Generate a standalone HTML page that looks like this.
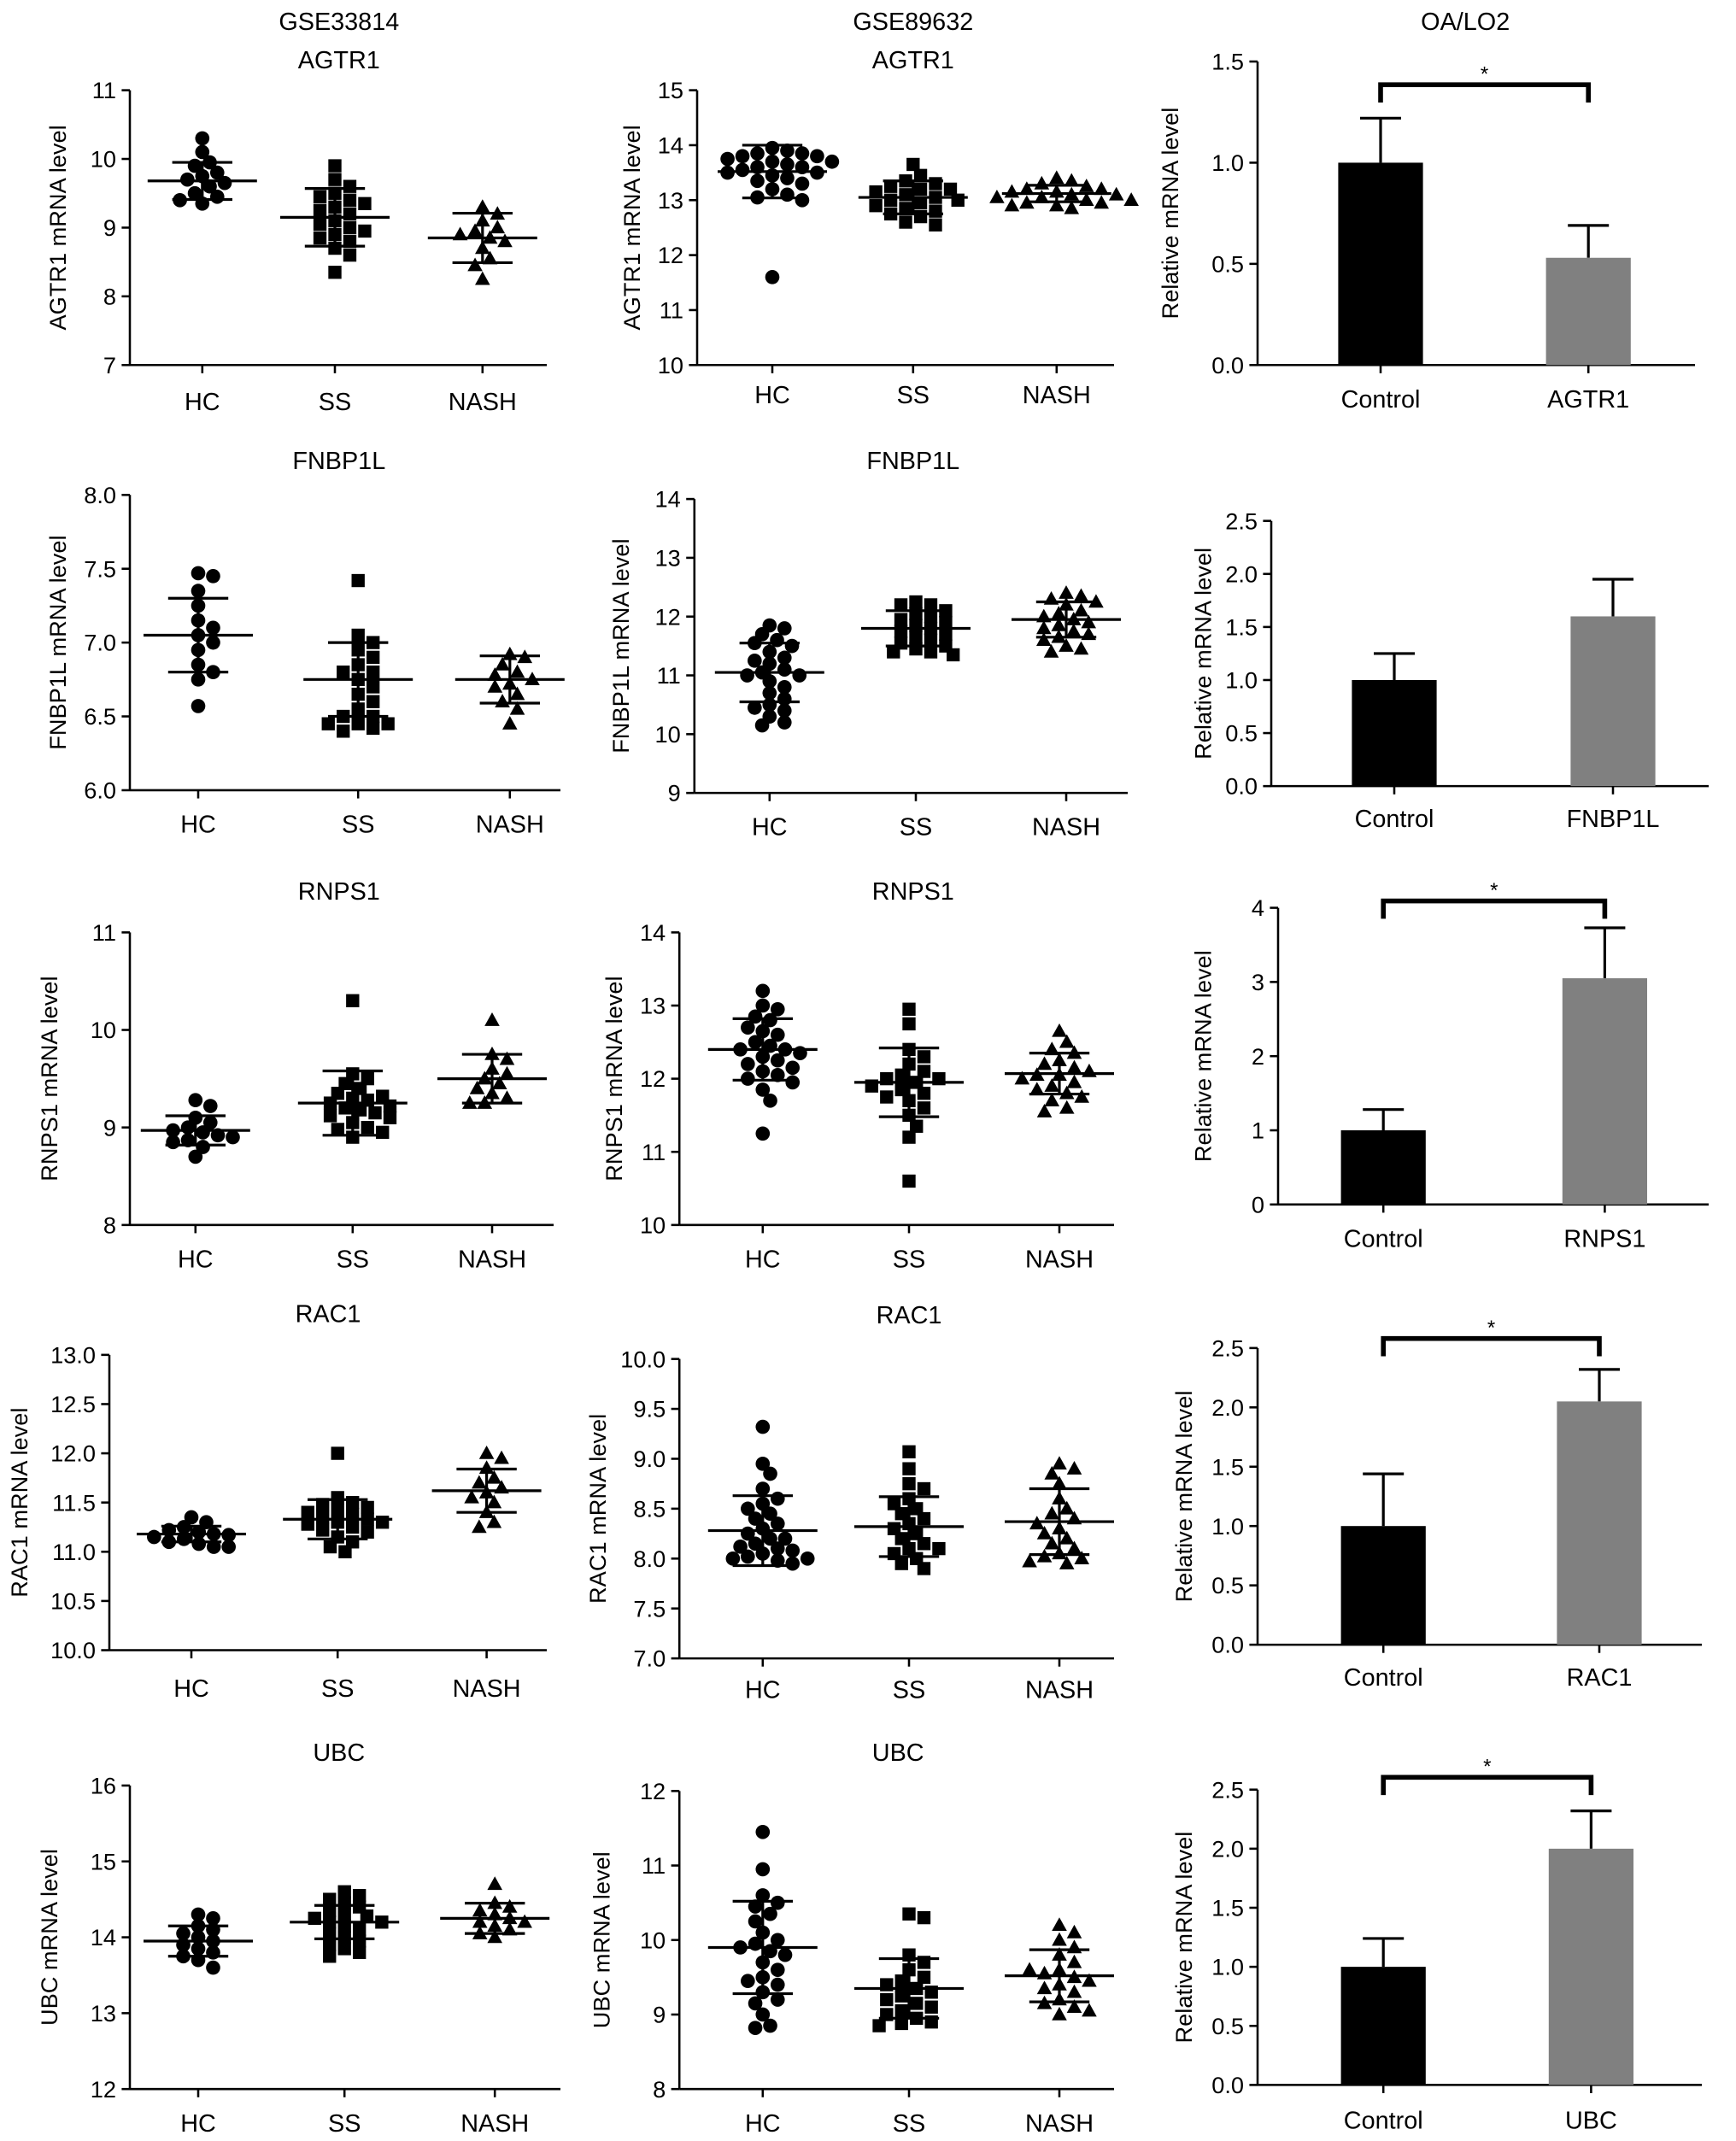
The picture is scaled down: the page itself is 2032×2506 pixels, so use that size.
<!DOCTYPE html>
<html><head><meta charset="utf-8"><style>
html,body{margin:0;padding:0;background:#fff;}
svg{display:block;font-family:"Liberation Sans",Arial,sans-serif;}
</style></head><body>
<svg id="fig" width="2032" height="2506" viewBox="0 0 1270 1566" preserveAspectRatio="none" xmlns="http://www.w3.org/2000/svg"></svg>
<script>
// ---- data ----
const groups = ["HC","SS","NASH"];
const p1HC=[10.3,10.1,9.95,9.9,9.8,9.75,9.7,9.65,9.6,9.5,9.45,9.4,9.35];
const p1SS=[9.9,9.7,9.6,9.5,9.45,9.4,9.35,9.3,9.25,9.2,9.1,9.05,9.0,8.95,8.9,8.85,8.8,8.7,8.6,8.35];
const p1NASH=[9.3,9.2,9.1,9.0,8.95,8.9,8.85,8.8,8.7,8.55,8.45,8.25];
const p1Mean=[9.68,9.15,8.85], p1SD=[0.27,0.42,0.36];
const p2HC=[13.95,13.9,13.85,13.85,13.8,13.8,13.75,13.7,13.7,13.65,13.6,13.6,13.55,13.5,13.5,13.45,13.4,13.35,13.3,13.2,13.1,13.05,13.0,11.6];
const p2SS=[13.65,13.45,13.35,13.3,13.25,13.2,13.2,13.15,13.1,13.05,13.0,13.0,12.95,12.9,12.85,12.8,12.75,12.7,12.6,12.55];
const p2NASH=[13.4,13.35,13.3,13.25,13.2,13.2,13.15,13.15,13.1,13.1,13.05,13.05,13.0,13.0,12.95,12.95,12.9,12.9,12.85];
const p2Mean=[13.52,13.05,13.12], p2SD=[0.48,0.3,0.15];
const p4HC=[7.47,7.45,7.35,7.25,7.15,7.1,7.05,7.0,6.95,6.85,6.8,6.75,6.57];
const p4SS=[7.42,7.05,7.0,6.95,6.9,6.85,6.8,6.8,6.75,6.7,6.65,6.6,6.55,6.5,6.5,6.45,6.45,6.42,6.4,6.45];
const p4NASH=[6.92,6.9,6.85,6.8,6.78,6.75,6.72,6.7,6.65,6.6,6.55,6.45];
const p4Mean=[7.05,6.75,6.75], p4SD=[0.25,0.25,0.16];
const p5HC=[11.85,11.8,11.7,11.6,11.55,11.5,11.4,11.3,11.2,11.1,11.05,11.0,11.0,10.9,10.8,10.7,10.6,10.5,10.45,10.4,10.3,10.2,10.15,11.25];
const p5SS=[12.25,12.2,12.2,12.1,12.05,12.0,11.95,11.9,11.85,11.8,11.75,11.7,11.65,11.6,11.55,11.5,11.45,11.4,11.4,11.35];
const p5NASH=[12.4,12.35,12.3,12.25,12.2,12.1,12.05,12.0,11.95,11.9,11.85,11.8,11.75,11.7,11.65,11.6,11.5,11.45,11.4];
const p5Mean=[11.05,11.8,11.95], p5SD=[0.5,0.3,0.3];
const p7HC=[9.28,9.22,9.1,9.05,9.0,8.97,8.95,8.92,8.9,8.87,8.85,8.8,8.7];
const p7SS=[10.3,9.55,9.5,9.45,9.4,9.35,9.3,9.28,9.25,9.2,9.18,9.15,9.12,9.1,9.05,9.0,8.98,8.95,8.9,9.22,9.32];
const p7NASH=[10.1,9.75,9.7,9.6,9.55,9.5,9.45,9.4,9.35,9.3,9.25,9.25];
const p7Mean=[8.97,9.25,9.5], p7SD=[0.15,0.33,0.25];
const p8HC=[13.2,13.0,12.95,12.85,12.8,12.7,12.65,12.6,12.5,12.45,12.4,12.4,12.35,12.3,12.25,12.2,12.15,12.1,12.05,12.0,11.95,11.85,11.7,11.25];
const p8SS=[12.95,12.75,12.4,12.3,12.2,12.1,12.05,12.0,12.0,11.95,11.9,11.85,11.8,11.75,11.7,11.6,11.5,11.35,11.2,10.6];
const p8NASH=[12.65,12.5,12.4,12.35,12.25,12.2,12.15,12.1,12.05,12.05,12.0,11.95,11.9,11.85,11.8,11.75,11.7,11.6,11.55];
const p8Mean=[12.4,11.95,12.07], p8SD=[0.42,0.47,0.28];
const p10HC=[11.35,11.3,11.25,11.22,11.2,11.18,11.17,11.15,11.13,11.1,11.08,11.05,11.05];
const p10SS=[12.0,11.55,11.5,11.48,11.45,11.42,11.4,11.38,11.35,11.33,11.3,11.28,11.25,11.22,11.2,11.15,11.1,11.05,11.0,11.3];
const p10NASH=[12.0,11.95,11.85,11.75,11.7,11.65,11.6,11.55,11.5,11.4,11.3,11.25];
const p10Mean=[11.18,11.33,11.62], p10SD=[0.08,0.2,0.22];
const p11HC=[9.32,8.95,8.85,8.7,8.55,8.45,8.4,8.35,8.3,8.25,8.2,8.2,8.15,8.12,8.1,8.08,8.05,8.02,8.0,8.0,7.98,7.95,8.5,8.6];
const p11SS=[9.07,8.9,8.75,8.7,8.6,8.5,8.45,8.4,8.35,8.3,8.25,8.2,8.15,8.1,8.05,8.0,7.95,7.9,8.1,8.55];
const p11NASH=[8.95,8.9,8.85,8.75,8.6,8.5,8.45,8.4,8.3,8.2,8.15,8.1,8.05,8.02,8.0,7.97,7.95,8.25,8.35];
const p11Mean=[8.28,8.32,8.37], p11SD=[0.35,0.3,0.33];
const p13HC=[14.3,14.25,14.15,14.1,14.05,14.0,13.95,13.9,13.85,13.8,13.75,13.7,13.6];
const p13SS=[14.6,14.55,14.5,14.45,14.4,14.35,14.3,14.28,14.25,14.2,14.15,14.1,14.05,14.0,13.95,13.9,13.85,13.8,13.75,14.2];
const p13NASH=[14.7,14.45,14.4,14.35,14.3,14.25,14.2,14.2,14.15,14.1,14.05,14.0];
const p13Mean=[13.95,14.2,14.25], p13SD=[0.2,0.22,0.2];
const p14HC=[11.45,10.95,10.6,10.5,10.45,10.35,10.25,10.1,10.0,9.95,9.9,9.85,9.8,9.7,9.6,9.5,9.45,9.4,9.3,9.2,9.15,9.0,8.85,8.82];
const p14SS=[10.35,10.3,9.8,9.7,9.6,9.5,9.45,9.4,9.35,9.3,9.25,9.2,9.15,9.1,9.05,9.0,8.95,8.9,8.88,8.85];
const p14NASH=[10.2,10.1,10.0,9.9,9.8,9.7,9.6,9.55,9.5,9.45,9.4,9.35,9.3,9.2,9.15,9.1,9.05,9.0,9.6];
const p14Mean=[9.9,9.35,9.52], p14SD=[0.62,0.4,0.35];
// bar panels
const barCats3=["Control","AGTR1"],  bar3=[1.0,0.53], bar3Err=[0.22,0.16];
const barCats6=["Control","FNBP1L"], bar6=[1.0,1.6],  bar6Err=[0.25,0.35];
const barCats9=["Control","RNPS1"],  bar9=[1.0,3.05], bar9Err=[0.28,0.68];
const barCats12=["Control","RAC1"],  bar12=[1.0,2.05],bar12Err=[0.44,0.27];
const barCats15=["Control","UBC"],   bar15=[1.0,2.0], bar15Err=[0.24,0.32];

// ---- drawing ----
const svg=document.getElementById('fig');
const NS="http://www.w3.org/2000/svg";
function el(tag,attrs,parent){const e=document.createElementNS(NS,tag);for(const k in attrs)e.setAttribute(k,attrs[k]);(parent||svg).appendChild(e);return e;}
function txt(s,x,y,size,parent,anchor,rot){const t=el('text',{x:x,y:y,'font-size':size,'text-anchor':anchor||'middle',fill:'#000'},parent);if(rot)t.setAttribute('transform','rotate(-90 '+x+' '+y+')');t.textContent=s;return t;}

function yAxis(g,ax,y0,y1,vmin,vmax,ticks,dec,xEnd,title,titleX){
  const ys=v=>y0-(v-vmin)/(vmax-vmin)*(y0-y1);
  el('line',{x1:ax,y1:y1,x2:ax,y2:y0,stroke:'#000','stroke-width':1.6},g);
  el('line',{x1:ax,y1:y0,x2:xEnd,y2:y0,stroke:'#000','stroke-width':1.6},g);
  ticks.forEach(v=>{
    el('line',{x1:ax-6,y1:ys(v),x2:ax,y2:ys(v),stroke:'#000','stroke-width':1.6},g);
    const t=txt(v.toFixed(dec),ax-10,ys(v)+6,17,g,'end');
    
  });
  const yt=txt(title,titleX,(y0+y1)/2,17,g,'middle',true);
  
  return ys;
}
function range(a,b,s){const r=[];for(let v=a;v<=b+1e-9;v+=s)r.push(Math.round(v*100)/100);return r;}

function swarm(vals,cx,ys,r){
  const placed=[];const d=r*1.05;
  vals.forEach(v=>{
    const y=ys(v);let x=cx;
    for(let k=0;k<20;k++){
      const off=k===0?0:(k%2?1:-1)*Math.ceil(k/2)*d;
      const ok=placed.every(p=>Math.hypot(p[0]-(cx+off),p[1]-y)>=2*r*0.8);
      if(ok){x=cx+off;break;}
    }
    placed.push([x,y]);
  });
  return placed;
}

function scatterPanel(o){
  const g=el('g',{});
  
  const ys=yAxis(g,o.ax,o.y0,o.y1,o.vmin,o.vmax,range(o.vmin,o.vmax,o.step),o.dec,o.xEnd,o.ytitle,o.titleX);
  const r=5.2;
  o.series.forEach((vals,i)=>{
    const cx=o.cx[i];
    el('line',{x1:cx,y1:o.y0,x2:cx,y2:o.y0+6,stroke:'#000','stroke-width':1.6},g);
    const lab=txt(groups[i],cx,o.labY,18,g);
    
    swarm(vals,cx,ys,r).forEach(p=>{
      let m;
      if(i===0){m=el('circle',{cx:p[0],cy:p[1],r:r,fill:'#000'},g);}
      else if(i===1){m=el('rect',{x:p[0]-r+0.4,y:p[1]-r+0.4,width:2*r-0.8,height:2*r-0.8,fill:'#000'},g);}
      else {m=el('polygon',{points:(p[0])+','+(p[1]-r-0.5)+' '+(p[0]-r-0.3)+','+(p[1]+r-1)+' '+(p[0]+r+0.3)+','+(p[1]+r-1),fill:'#000'},g);}
      
      
    });
    const mn=o.mean[i],sd=o.sd[i];
    const ml=el('line',{x1:cx-40,y1:ys(mn),x2:cx+40,y2:ys(mn),stroke:'#000','stroke-width':2},g);
    
    el('line',{x1:cx,y1:ys(mn+sd),x2:cx,y2:ys(mn-sd),stroke:'#000','stroke-width':2},g);
    el('line',{x1:cx-22,y1:ys(mn+sd),x2:cx+22,y2:ys(mn+sd),stroke:'#000','stroke-width':2},g);
    el('line',{x1:cx-22,y1:ys(mn-sd),x2:cx+22,y2:ys(mn-sd),stroke:'#000','stroke-width':2},g);
  });
}

function barPanel(o){
  const g=el('g',{});
  
  const ys=yAxis(g,o.ax,o.y0,o.y1,0,o.vmax,range(0,o.vmax,o.step),o.dec,o.xEnd,'Relative mRNA level',o.titleX);
  const cols=['#000','#808080'];
  o.vals.forEach((v,i)=>{
    const cx=o.cx[i],w=62;
    el('line',{x1:cx,y1:ys(v),x2:cx,y2:ys(v+o.err[i]),stroke:'#000','stroke-width':2},g);
    el('line',{x1:cx-15,y1:ys(v+o.err[i]),x2:cx+15,y2:ys(v+o.err[i]),stroke:'#000','stroke-width':2},g);
    const b=el('rect',{x:cx-w/2,y:ys(v),width:w,height:o.y0-ys(v),fill:cols[i]},g);
    
    el('line',{x1:cx,y1:o.y0,x2:cx,y2:o.y0+6,stroke:'#000','stroke-width':1.6},g);
    const lab=txt(o.cats[i],cx,o.labY,18,g);
    
  });
  if(o.star){
    const by=o.starY;
    const br=el('path',{d:'M'+o.cx[0]+','+(by+13)+' V'+by+' H'+o.cx[1]+' V'+(by+13),fill:'none',stroke:'#000','stroke-width':3.5},g);
    
    const s=txt('*',(o.cx[0]+o.cx[1])/2,by-3,15,g);
    
  }
}

// titles
[["GSE33814",248,22,"column-title-gse33814"],["AGTR1",248,50,"panel-title"],["GSE89632",668,22,"column-title-gse89632"],["AGTR1",668,50,"panel-title"],["OA/LO2",1072,22,"column-title-oa-lo2"],
 ["FNBP1L",248,343,"panel-title"],["FNBP1L",668,343,"panel-title"],["RNPS1",248,658,"panel-title"],["RNPS1",668,658,"panel-title"],
 ["RAC1",240,967,"panel-title"],["RAC1",665,968,"panel-title"],["UBC",248,1288,"panel-title"],["UBC",657,1288,"panel-title"]].forEach(a=>{
  const t=txt(a[0],a[1],a[2],18);
});

scatterPanel({name:'gse33814-agtr1-panel',ax:95,y0:267,y1:66,vmin:7,vmax:11,step:1,dec:0,xEnd:400,ytitle:'AGTR1 mRNA level',titleX:48,cx:[148,245,353],labY:300,series:[p1HC,p1SS,p1NASH],mean:p1Mean,sd:p1SD});
scatterPanel({name:'gse89632-agtr1-panel',ax:510,y0:267,y1:66,vmin:10,vmax:15,step:1,dec:0,xEnd:815,ytitle:'AGTR1 mRNA level',titleX:468,cx:[565,668,773],labY:295,series:[p2HC,p2SS,p2NASH],mean:p2Mean,sd:p2SD});
barPanel({name:'oa-lo2-agtr1-panel',ax:920,y0:267,y1:45,vmax:1.5,step:0.5,dec:1,xEnd:1240,titleX:862,cx:[1010,1162],labY:298,cats:barCats3,vals:bar3,err:bar3Err,star:true,starY:62});

scatterPanel({name:'gse33814-fnbp1l-panel',ax:95,y0:578,y1:362,vmin:6,vmax:8,step:0.5,dec:1,xEnd:410,ytitle:'FNBP1L mRNA level',titleX:48,cx:[145,262,373],labY:609,series:[p4HC,p4SS,p4NASH],mean:p4Mean,sd:p4SD});
scatterPanel({name:'gse89632-fnbp1l-panel',ax:508,y0:580,y1:365,vmin:9,vmax:14,step:1,dec:0,xEnd:825,ytitle:'FNBP1L mRNA level',titleX:460,cx:[563,670,780],labY:611,series:[p5HC,p5SS,p5NASH],mean:p5Mean,sd:p5SD});
barPanel({name:'oa-lo2-fnbp1l-panel',ax:930,y0:575,y1:381,vmax:2.5,step:0.5,dec:1,xEnd:1250,titleX:886,cx:[1020,1180],labY:605,cats:barCats6,vals:bar6,err:bar6Err,star:false});

scatterPanel({name:'gse33814-rnps1-panel',ax:95,y0:896,y1:682,vmin:8,vmax:11,step:1,dec:0,xEnd:405,ytitle:'RNPS1 mRNA level',titleX:42,cx:[143,258,360],labY:927,series:[p7HC,p7SS,p7NASH],mean:p7Mean,sd:p7SD});
scatterPanel({name:'gse89632-rnps1-panel',ax:497,y0:896,y1:682,vmin:10,vmax:14,step:1,dec:0,xEnd:815,ytitle:'RNPS1 mRNA level',titleX:455,cx:[558,665,775],labY:927,series:[p8HC,p8SS,p8NASH],mean:p8Mean,sd:p8SD});
barPanel({name:'oa-lo2-rnps1-panel',ax:935,y0:881,y1:664,vmax:4,step:1,dec:0,xEnd:1250,titleX:886,cx:[1012,1174],labY:912,cats:barCats9,vals:bar9,err:bar9Err,star:true,starY:659});

scatterPanel({name:'gse33814-rac1-panel',ax:80,y0:1207,y1:991,vmin:10,vmax:13,step:0.5,dec:1,xEnd:400,ytitle:'RAC1 mRNA level',titleX:20,cx:[140,247,356],labY:1241,series:[p10HC,p10SS,p10NASH],mean:p10Mean,sd:p10SD});
scatterPanel({name:'gse89632-rac1-panel',ax:497,y0:1213,y1:994,vmin:7,vmax:10,step:0.5,dec:1,xEnd:815,ytitle:'RAC1 mRNA level',titleX:443,cx:[558,665,775],labY:1242,series:[p11HC,p11SS,p11NASH],mean:p11Mean,sd:p11SD});
barPanel({name:'oa-lo2-rac1-panel',ax:920,y0:1203,y1:986,vmax:2.5,step:0.5,dec:1,xEnd:1245,titleX:872,cx:[1012,1170],labY:1233,cats:barCats12,vals:bar12,err:bar12Err,star:true,starY:979});

scatterPanel({name:'gse33814-ubc-panel',ax:95,y0:1528,y1:1306,vmin:12,vmax:16,step:1,dec:0,xEnd:410,ytitle:'UBC mRNA level',titleX:42,cx:[145,252,362],labY:1559,series:[p13HC,p13SS,p13NASH],mean:p13Mean,sd:p13SD});
scatterPanel({name:'gse89632-ubc-panel',ax:497,y0:1528,y1:1310,vmin:8,vmax:12,step:1,dec:0,xEnd:815,ytitle:'UBC mRNA level',titleX:446,cx:[558,665,775],labY:1559,series:[p14HC,p14SS,p14NASH],mean:p14Mean,sd:p14SD});
barPanel({name:'oa-lo2-ubc-panel',ax:920,y0:1525,y1:1309,vmax:2.5,step:0.5,dec:1,xEnd:1245,titleX:872,cx:[1012,1164],labY:1557,cats:barCats15,vals:bar15,err:bar15Err,star:true,starY:1300});
</script>
</body></html>
